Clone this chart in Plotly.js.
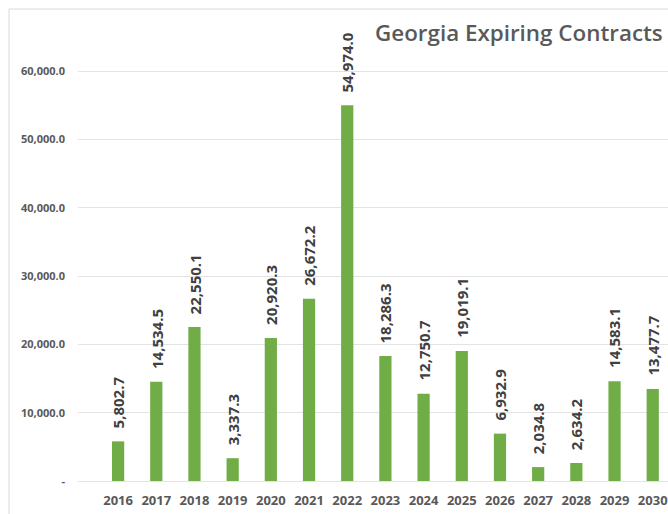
<!DOCTYPE html>
<html>
<head>
<meta charset="utf-8">
<script src="https://cdn.plot.ly/plotly-3.0.1.min.js"></script>
<style>html,body{margin:0;padding:0;background:#fff;}#chart{width:668px;height:514px;}</style>
</head>
<body>
<div id="chart"></div>
<script>
const years = ['2016','2017','2018','2019','2020','2021','2022','2023','2024','2025','2026','2027','2028','2029','2030'];
const values = [5802.7, 14534.5, 22550.1, 3337.3, 20920.3, 26672.2, 54974.0, 18286.3, 12750.7, 19019.1, 6932.9, 2034.8, 2634.2, 14583.1, 13477.7];
const yTickVals = [0, 10000, 20000, 30000, 40000, 50000, 60000];
const yTickText = ['-', '10,000.0', '20,000.0', '30,000.0', '40,000.0', '50,000.0', '60,000.0'];
const chartTitle = 'Georgia Expiring Contracts';

const fmt = v => v.toLocaleString('en-US', {minimumFractionDigits: 1, maximumFractionDigits: 1});

const trace = {
  type: 'bar',
  x: years,
  y: values,
  width: 0.32,
  marker: {color: '#70AD47'},
  hoverinfo: 'none'
};

const labelAnnotations = years.map((yr, i) => ({
  x: i, y: values[i], xref: 'x', yref: 'y',
  text: fmt(values[i]),
  textangle: -90,
  showarrow: false,
  xanchor: 'center', yanchor: 'bottom',
  yshift: 11,
  font: {family: 'Open Sans', size: 15, color: '#404040', weight: 700}
}));

const layout = {
  width: 668, height: 514,
  margin: {l: 78, r: 0, t: 9, b: 33},
  paper_bgcolor: '#ffffff', plot_bgcolor: '#ffffff',
  showlegend: false,
  bargap: 0.68,
  xaxis: {
    type: 'category',
    range: [-1.05, 14.4],
    showgrid: false, zeroline: false, showline: false,
    ticks: '',
    tickfont: {family: 'Open Sans', size: 13, color: '#595959', weight: 700},
    ticklabelstandoff: 10
  },
  yaxis: {
    range: [0, 69075],
    tickvals: yTickVals,
    ticktext: yTickText,
    showgrid: true, gridcolor: '#e3e3e3', gridwidth: 1,
    zeroline: true, zerolinecolor: '#e3e3e3', zerolinewidth: 1,
    showline: false, ticks: '',
    tickfont: {family: 'Open Sans', size: 11, color: '#595959', weight: 700},
    ticklabelstandoff: 12
  },
  annotations: [
    ...labelAnnotations,
    {
      xref: 'paper', yref: 'paper',
      x: (373 - 78) / 590, y: (481 - 15) / 472,
      xanchor: 'left', yanchor: 'top',
      text: chartTitle, showarrow: false,
      font: {family: 'Open Sans', size: 22.4, color: '#595959', weight: 600}
    }
  ],
  shapes: [
    {type: 'line', xref: 'paper', yref: 'paper', x0: (9 - 78) / 590, x1: (9 - 78) / 590, y0: 1, y1: -0.08, line: {color: '#d9d9d9', width: 1}},
    {type: 'line', xref: 'paper', yref: 'paper', x0: (9 - 78) / 590, x1: 1.02, y0: 1, y1: 1, line: {color: '#d9d9d9', width: 1}}
  ]
};

Plotly.newPlot('chart', [trace], layout, {displayModeBar: false, staticPlot: true});
</script>
</body>
</html>
